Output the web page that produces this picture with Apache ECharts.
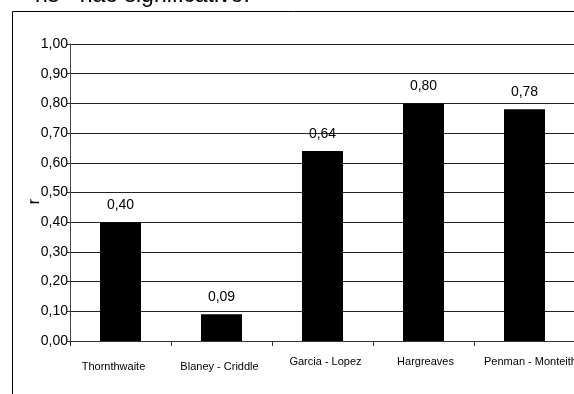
<!DOCTYPE html>
<html>
<head>
<meta charset="utf-8">
<script src="https://cdn.jsdelivr.net/npm/echarts@6/dist/echarts.min.js"></script>
<style>
  html, body { margin: 0; padding: 0; background: #fff; }
  #chart { width: 574px; height: 394px; }
</style>
</head>
<body>
<div id="chart"></div>
<script>
// Correlation coefficient (r) per evapotranspiration method
const methods = ['Thornthwaite', 'Blaney - Criddle', 'Garcia - Lopez', 'Hargreaves', 'Penman - Monteith'];
const rValues = [0.40, 0.09, 0.64, 0.80, 0.78];
// Methods whose labels sit a little lower under the axis
const lowerLabels = ['Thornthwaite', 'Blaney - Criddle'];
const noteText = 'ns - não significativo.';
const axisTitle = 'r';

const fmt = v => Number(v).toFixed(2).replace('.', ',');

// small horizontal nudges of the category labels (negative = left)
const labelShift = [-7, -2, 3, 2, 6];

const chart = echarts.init(document.getElementById('chart'), null, { renderer: 'canvas' });

chart.setOption({
  animation: false,
  backgroundColor: '#ffffff',
  textStyle: { fontFamily: 'Liberation Sans, Arial, sans-serif' },
  grid: { left: 70, right: -1, top: 44, bottom: 53, containLabel: false, outerBoundsMode: 'none' },
  xAxis: {
    type: 'category',
    data: methods.map((m, i) => {
      const s = labelShift[i];
      const top = lowerLabels.includes(m) ? 5 : 0;
      return {
        value: m,
        textStyle: { padding: [top, s < 0 ? -2 * s : 0, 0, s > 0 ? 2 * s : 0] }
      };
    }),
    axisLine: { show: true, lineStyle: { color: '#333', width: 1 } },
    axisTick: { show: true, length: 5, lineStyle: { color: '#333' } },
    axisLabel: {
      color: '#000',
      fontSize: 11,
      margin: 15,
      interval: 0,
      hideOverlap: false,
      fontFamily: 'Liberation Sans, Arial, sans-serif'
    },
    splitLine: { show: false }
  },
  yAxis: {
    type: 'value',
    min: 0,
    max: 1,
    interval: 0.1,
    name: axisTitle,
    nameLocation: 'middle',
    nameGap: 27,
    nameRotate: 90,
    nameMoveOverlap: false,
    nameTextStyle: {
      color: '#000',
      fontSize: 16,
      padding: [0, 18, 0, 0],
      fontFamily: 'Liberation Sans, Arial, sans-serif'
    },
    axisLine: { show: true, lineStyle: { color: '#444', width: 1 } },
    axisTick: { show: true, length: 3, lineStyle: { color: '#333' } },
    axisLabel: {
      color: '#000',
      fontSize: 14,
      margin: 2,
      formatter: v => fmt(v),
      fontFamily: 'Liberation Sans, Arial, sans-serif'
    },
    splitLine: { show: true, lineStyle: { color: '#222', width: 1 } }
  },
  series: [{
    type: 'bar',
    data: rValues,
    barWidth: 41,
    itemStyle: { color: '#000' },
    label: {
      show: true,
      position: 'top',
      distance: 10,
      color: '#000',
      fontSize: 14,
      fontFamily: 'Liberation Sans, Arial, sans-serif',
      formatter: p => fmt(p.value)
    }
  }],
  graphic: [
    {
      type: 'rect',
      silent: true,
      shape: { x: 12.5, y: 11.5, width: 700, height: 500 },
      style: { fill: null, stroke: '#000', lineWidth: 1 },
      z: 10
    },
    {
      type: 'text',
      silent: true,
      left: 35,
      top: -16,
      style: {
        text: noteText,
        fill: '#000',
        fontSize: 23,
        fontFamily: 'Liberation Sans, Arial, sans-serif'
      }
    }
  ]
});
</script>
</body>
</html>
